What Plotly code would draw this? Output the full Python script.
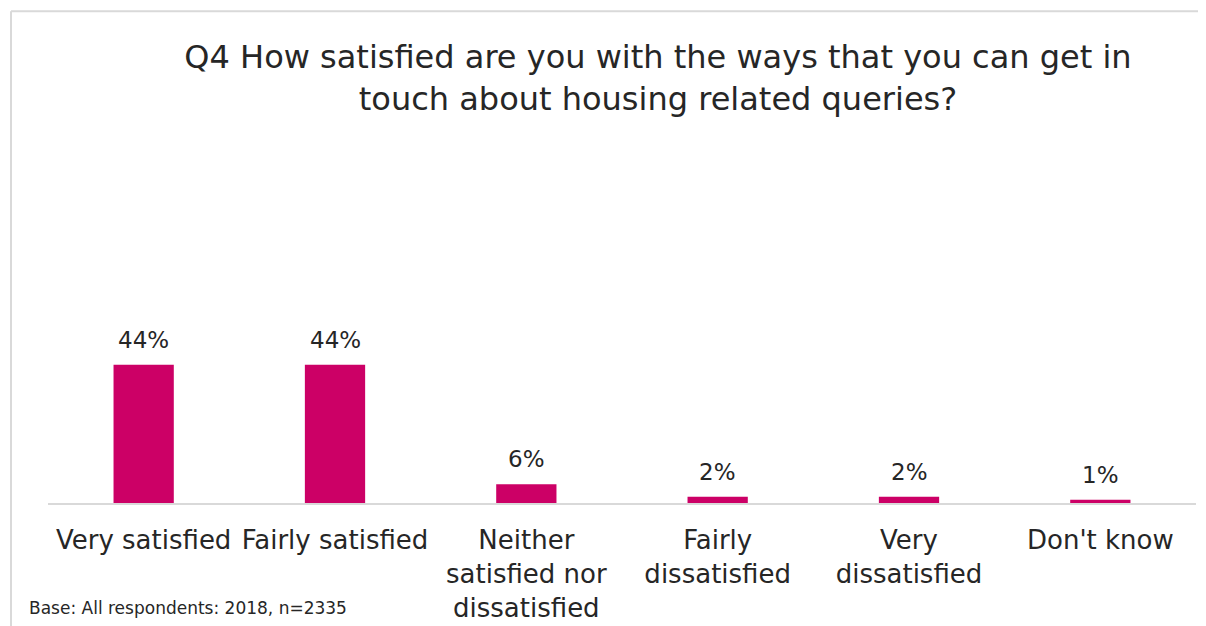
import plotly.graph_objects as go

categories = ["Very satisfied", "Fairly satisfied", "Neither<br>satisfied nor<br>dissatisfied",
              "Fairly<br>dissatisfied", "Very<br>dissatisfied", "Don't know"]
values = [44, 44, 6, 2, 2, 1]
labels = ["44%", "44%", "6%", "2%", "2%", "1%"]

title_text = "Q4 How satisfied are you with the ways that you can get in<br>touch about housing related queries?"
footnote = "Base: All respondents: 2018, n=2335"

FONT = "DejaVu Sans"
BAR = "#CC0066"
TXT = "#262626"

# page body has an 8px margin, so the figure starts at page (8, 8)
OFF = 8
PL, PR, PT, PB = 48, 1196, 189.4, 503  # plot area in page pixels
W, H = 1206 - OFF, 626 - OFF
L, R, T, B = PL - OFF, 1206 - PR, PT - OFF, 626 - PB
pw, ph = PR - PL, PB - PT

def px(x):
    return (x - PL) / pw

def py(y):
    return (PB - y) / ph

fig = go.Figure(go.Bar(
    x=categories, y=values,
    marker=dict(color=BAR, line=dict(width=0)),
    width=0.315, hoverinfo="x+y",
))

annotations = [dict(x=c, y=v, text=t, xref="x", yref="y", xanchor="center", yanchor="bottom",
                    yshift=10, showarrow=False, font=dict(family=FONT, size=23, color=TXT))
               for c, v, t in zip(categories, values, labels)]
annotations.append(dict(text=footnote, x=px(27), y=py(608), xref="paper", yref="paper",
                        xanchor="left", yanchor="middle", showarrow=False,
                        font=dict(family=FONT, size=17, color=TXT)))

fig.update_layout(
    width=W, height=H,
    margin=dict(l=L, r=R, t=T, b=B, autoexpand=False),
    paper_bgcolor="white", plot_bgcolor="white",
    showlegend=False,
    title=dict(text=title_text, x=px(658), xanchor="center", y=1 - (68 - OFF) / H, yanchor="middle",
               xref="paper", font=dict(family=FONT, size=32, color=TXT)),
    xaxis=dict(showline=True, linecolor="#d9d9d9", linewidth=2, ticks="outside", ticklen=13,
               tickcolor="rgba(0,0,0,0)", tickfont=dict(family=FONT, size=26, color=TXT),
               showgrid=False, fixedrange=True),
    yaxis=dict(range=[0, 100], visible=False, showgrid=False, zeroline=False),
    annotations=annotations,
    shapes=[
        dict(type="line", xref="paper", yref="paper", x0=px(11), x1=px(1210), y0=py(12), y1=py(12),
             line=dict(color="#d9d9d9", width=2)),
        dict(type="line", xref="paper", yref="paper", x0=px(11), x1=px(11), y0=py(12), y1=py(630),
             line=dict(color="#d9d9d9", width=2)),
    ],
)

fig.write_html("out.html")
